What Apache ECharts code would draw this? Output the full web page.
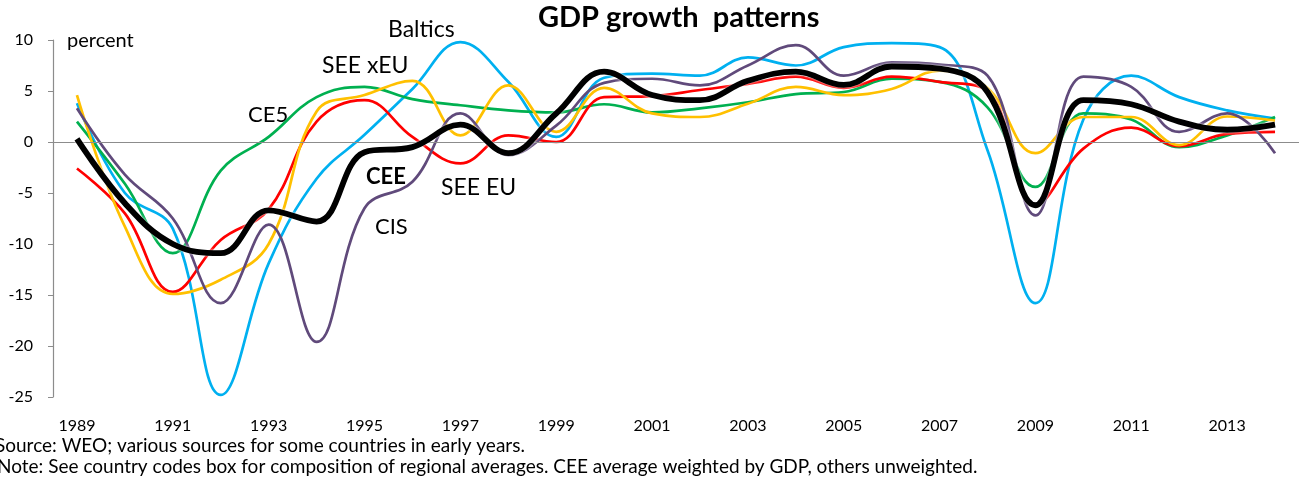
<!DOCTYPE html>
<html>
<head>
<meta charset="utf-8">
<title>GDP growth patterns</title>
<script src="https://cdn.jsdelivr.net/npm/echarts@6/dist/echarts.min.js"></script>
<style>
  html,body{margin:0;padding:0;background:#fff;}
  #main{width:1299px;height:479px;}
</style>
</head>
<body>
<div id="main"></div>
<script>
//年份
var years=["1989","1990","1991","1992","1993","1994","1995","1996","1997","1998","1999","2000","2001",
    "2002","2003","2004","2005","2006","2007","2008","2009","2010","2011","2012","2013","2014"];

//各地区GDP增长率 (percent)
var baltics=[3.8,-5.0,-8.5,-24.8,-11.9,-3.6,0.7,5.2,9.8,5.9,0.5,6.3,6.7,6.5,8.3,7.5,9.3,9.7,9.3,-0.8,-15.8,2.2,6.5,4.4,3.1,2.3];
var ce5=[2.0,-4.1,-10.9,-2.8,0.5,4.4,5.4,4.2,3.6,3.1,2.9,3.7,2.9,3.3,3.9,4.7,4.9,6.2,5.9,3.4,-4.4,2.8,2.2,-0.5,0.65,2.45];
var seeEu=[-2.6,-7.0,-14.7,-9.6,-6.6,2.0,4.1,0.5,-2.1,0.65,0.0,4.4,4.5,5.1,5.7,6.4,5.3,6.4,5.9,5.0,-6.2,-0.65,1.4,-0.4,0.8,1.0];
var seeXeu=[4.6,-8.3,-14.9,-13.5,-10.0,3.0,4.6,6.0,0.65,5.55,1.0,5.3,2.8,2.45,3.75,5.4,4.6,5.2,7.0,5.3,-1.1,2.45,2.45,-0.3,2.5,2.1];
var cis=[3.3,-3.2,-7.5,-15.8,-8.1,-19.6,-6.5,-3.9,2.8,-1.3,1.6,5.8,6.2,5.55,7.5,9.5,6.5,7.8,7.6,6.5,-7.2,6.4,5.4,1.0,2.8,-1.1];
var cee=[0.3,-6.0,-10.0,-10.9,-6.7,-7.8,-1.0,-0.5,1.7,-1.1,2.8,6.9,4.6,4.1,6.0,6.9,5.6,7.4,7.2,4.9,-6.2,4.1,3.7,2.0,1.2,1.7];

var fontName="Lato, 'Open Sans', sans-serif";

//生成一条彩色折线
function makeLine(name,data,color,z){
    return {
        name:name,
        type:"line",
        data:data,
        smooth:0.4,
        symbol:"none",
        z:z,
        lineStyle:{color:color,width:2.7},
        itemStyle:{color:color}
    };
}

//图中的文字标注
function label(text,x,y,size,bold){
    return {
        type:"text",
        x:x,
        y:y,
        style:{
            text:text,
            fill:"#000",
            font:(bold?"bold ":"")+size+"px "+fontName,
            textVerticalAlign:"middle"
        }
    };
}

var myChart=echarts.init(document.getElementById("main"));

var baltLine=makeLine("Baltics",baltics,"#00B0F0",3);
//零线
baltLine.markLine={
    silent:true,
    symbol:"none",
    label:{show:false},
    lineStyle:{color:"#8c8c8c",width:1.2,type:"solid"},
    data:[{yAxis:0}]
};

var option={
    animation:false,
    backgroundColor:"#fff",
    grid:{left:53,right:0,top:40,bottom:82},
    xAxis:{
        type:"category",
        data:years,
        boundaryGap:true,
        axisLine:{show:false},
        axisTick:{show:false},
        axisLabel:{interval:1,margin:21,fontSize:16,fontFamily:fontName,color:"#000"}
    },
    yAxis:{
        type:"value",
        min:-25,
        max:10,
        interval:5,
        splitLine:{show:false},
        axisLine:{show:true,lineStyle:{color:"#8c8c8c",width:1.2}},
        axisTick:{show:true,length:5,lineStyle:{color:"#8c8c8c"}},
        axisLabel:{margin:20,fontSize:16,fontFamily:fontName,color:"#000"}
    },
    series:[
        baltLine,
        makeLine("CE5",ce5,"#00B050",3),
        makeLine("SEE EU",seeEu,"#FF0000",3),
        makeLine("SEE xEU",seeXeu,"#FFC000",3),
        makeLine("CIS",cis,"#604A7B",3),
        {
            name:"CEE",
            type:"line",
            data:cee,
            smooth:0.4,
            symbol:"none",
            z:5,
            lineStyle:{color:"#000",width:5.8,shadowColor:"#fff",shadowBlur:3},
            itemStyle:{color:"#000"}
        }
    ],
    graphic:[
        label("GDP growth  patterns",538,18,29,true),
        label("percent",67,41,20,false),
        label("Baltics",388,30,23,false),
        label("SEE xEU",322,66,23,false),
        label("CE5",248,115,22,false),
        label("CEE",366,177,22,true),
        label("SEE EU",441,188,23,false),
        label("CIS",375,227,22,false),
        label("Source: WEO; various sources for some countries in early years.",-5,446,19,false),
        label("Note: See country codes box for composition of regional averages. CEE average weighted by GDP, others unweighted.",-3,467,19,false)
    ]
};
myChart.setOption(option);
</script>
</body>
</html>
